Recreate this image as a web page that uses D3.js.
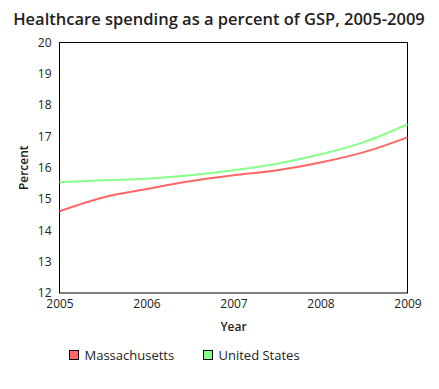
<!DOCTYPE html>
<html>
<head>
<meta charset="utf-8">
<script src="https://cdn.jsdelivr.net/npm/d3@7"></script>
<style>
  body { margin: 0; background: #fff; }
  text { font-family: "Open Sans", sans-serif; fill: #222; }
</style>
</head>
<body>
<div id="chart"></div>
<script>
// valores (medio año)
const years = [2005, 2005.5, 2006, 2006.5, 2007, 2007.5, 2008, 2008.5, 2009];
const massachusetts = [14.61, 15.05, 15.32, 15.57, 15.76, 15.92, 16.17, 16.5, 16.97];
const unitedStates = [15.54, 15.6, 15.65, 15.76, 15.92, 16.13, 16.43, 16.82, 17.39];
const seriesNames = ["Massachusetts", "United States"];
const seriesColors = ["#ff6666", "#88ff88"];
const xTicks = [2005, 2006, 2007, 2008, 2009];
const yTicks = [12, 13, 14, 15, 16, 17, 18, 19, 20];

const width = 439, height = 389;
const margin = { top: 42.5, right: 31.5, bottom: 96, left: 59.5 };

const svg = d3.select("#chart").append("svg")
    .attr("width", width)
    .attr("height", height);

const x = d3.scaleLinear().domain([2005, 2009]).range([margin.left, width - margin.right]);
const y = d3.scaleLinear().domain([12, 20]).range([height - margin.bottom, margin.top]);

// título
svg.append("text")
    .attr("x", 219).attr("y", 25)
    .attr("text-anchor", "middle")
    .style("font-size", "16.5px").style("font-weight", 600)
    .text("Healthcare spending as a percent of GSP, 2005-2009");

// ejes
const xAxis = svg.append("g")
    .attr("transform", `translate(0,${height - margin.bottom})`)
    .call(d3.axisBottom(x).tickValues(xTicks).tickFormat(d3.format("d")).tickSize(0).tickPadding(6));
const yAxis = svg.append("g")
    .attr("transform", `translate(${margin.left},0)`)
    .call(d3.axisLeft(y).tickValues(yTicks).tickSize(0).tickPadding(8));
[xAxis, yAxis].forEach(g => {
    g.select(".domain").remove();
    g.selectAll("text").style("font-size", "12px").style("fill", "#222").style("font-family", "'Open Sans', sans-serif");
});

// marco
svg.append("rect")
    .attr("x", margin.left).attr("y", margin.top)
    .attr("width", width - margin.left - margin.right)
    .attr("height", height - margin.top - margin.bottom)
    .attr("fill", "none").attr("stroke", "#000").attr("stroke-width", 1);

// líneas
const line = d3.line()
    .x((d, i) => x(years[i]))
    .y(d => y(d))
    .curve(d3.curveMonotoneX);

[massachusetts, unitedStates].forEach((s, i) => {
    svg.append("path")
        .datum(s)
        .attr("d", line)
        .attr("fill", "none")
        .attr("stroke", seriesColors[i])
        .attr("stroke-width", 2);
});

// títulos de ejes
svg.append("text")
    .attr("transform", `translate(28,${(margin.top + height - margin.bottom) / 2}) rotate(-90)`)
    .attr("text-anchor", "middle")
    .style("font-size", "12px").style("font-weight", 600)
    .text("Percent");
svg.append("text")
    .attr("x", (margin.left + width - margin.right) / 2).attr("y", 331)
    .attr("text-anchor", "middle")
    .style("font-size", "12px").style("font-weight", 600)
    .text("Year");

// leyenda
const legendX = [69.5, 203.5];
seriesNames.forEach((name, i) => {
    const g = svg.append("g").attr("transform", `translate(${legendX[i]},350.5)`);
    g.append("rect").attr("width", 9).attr("height", 9)
        .attr("fill", seriesColors[i]).attr("stroke", "#000");
    g.append("text").attr("x", 15).attr("y", 9.5)
        .style("font-size", "13px")
        .text(name);
});
</script>
</body>
</html>
